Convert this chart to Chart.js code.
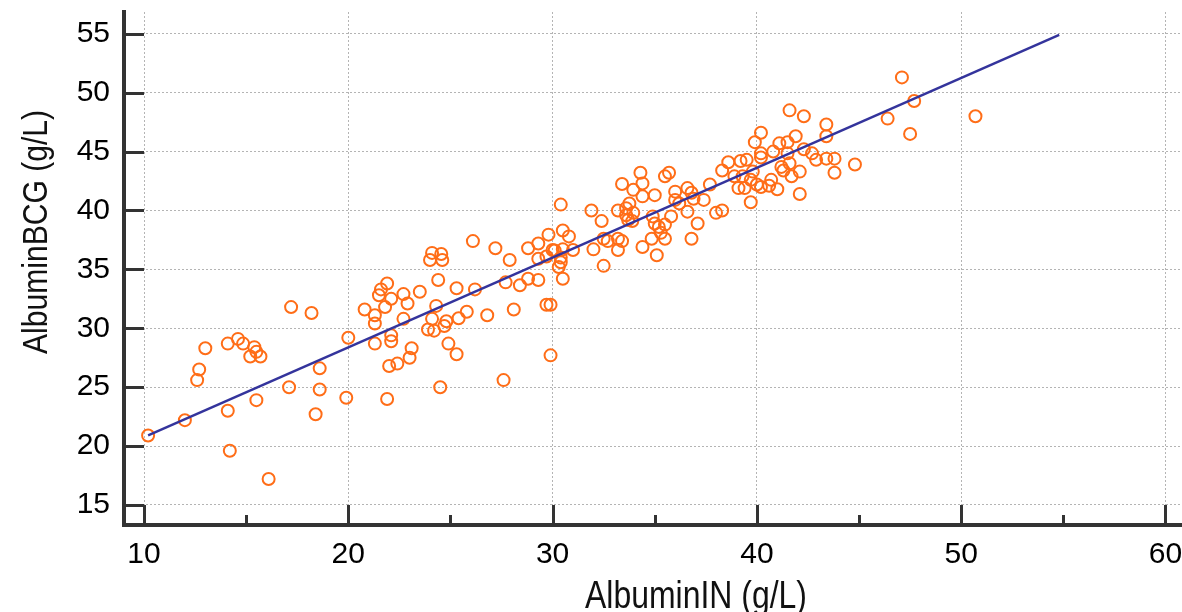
<!DOCTYPE html>
<html>
<head>
<meta charset="utf-8">
<script src="https://cdn.jsdelivr.net/npm/chart.js@4.4.1/dist/chart.umd.min.js"></script>
<style>
    html, body { margin: 0; padding: 0; background: #fff; overflow: hidden; }
    #wrap { width: 1182px; height: 612px; position: relative; }
    #myChart { display: block; }
</style>
</head>
<body>
<div id="wrap"><canvas id="myChart"></canvas></div>
<script>
// albumin measured by the IN method (x) and the BCG method (y), g/L
const albuminIN = [
    10.2, 12.0, 12.6, 12.7, 13.0, 14.1, 14.2, 14.1, 14.6, 14.85, 15.4, 15.5, 15.2, 15.7, 15.5, 16.1,
    17.2, 18.2, 17.1, 18.6, 18.6, 18.4, 20.0, 19.9, 20.8, 21.3, 21.3, 21.3, 21.9, 21.6, 21.9, 21.5,
    22.1, 21.8, 22.1, 22.1, 22.0, 22.4,
    22.7, 22.9, 22.7, 23.5, 23.0, 23.1, 24.1, 24.0, 24.55, 24.6, 24.4, 24.3, 24.1, 23.9, 24.2, 24.8,
    24.7, 24.9, 25.3, 24.5, 25.3, 25.4, 25.8, 26.2, 26.1, 26.8, 27.2, 27.9, 27.7, 28.1, 27.6, 28.4,
    28.8, 29.3, 28.8, 29.3, 29.3, 29.7, 29.8, 29.7, 29.9, 29.9, 30.0, 30.1, 30.5, 30.4, 30.4, 30.3,
    30.5, 30.5, 30.4, 30.8, 31.0,
    31.9, 32.4, 32.0, 32.5, 32.5, 32.7, 33.2, 33.4, 33.2, 33.4, 33.2, 33.95, 33.76, 33.6, 33.6, 33.7,
    33.9, 33.95, 34.4, 34.3, 34.4, 35.0, 35.5, 35.7, 36.0, 36.0, 36.2, 36.6, 36.8, 36.9, 37.4, 37.7,
    36.6, 35.8, 35.5, 35.0, 35.2, 34.85, 34.9, 35.5, 35.3, 34.4, 35.1, 36.8, 37.1,
    38.0, 38.3, 38.3, 38.6, 39.2, 39.5, 38.9, 39.3, 39.8, 39.7, 39.1, 39.4, 40.0, 40.2, 40.6, 40.7,
    41.0, 39.7, 40.2, 40.2, 39.9, 40.2, 40.8, 41.1, 41.5, 41.9, 41.2, 41.3, 41.7, 42.1, 41.6, 41.5,
    42.1, 42.3, 42.7, 42.9, 43.4, 43.8, 43.8, 43.4, 43.4, 42.3, 41.6, 44.8,
    47.1, 47.7, 46.4, 47.5, 50.7
];
const albuminBCG = [
    20.9, 22.2, 25.6, 26.5, 28.3, 23.0, 19.6, 28.7, 29.1, 28.7, 28.4, 28.0, 27.6, 27.6, 23.9, 17.2,
    31.8, 31.3, 25.0, 26.6, 24.8, 22.7, 29.2, 24.1, 31.6, 31.1, 30.4, 28.7, 24.0, 33.3, 33.8, 32.8,
    32.5, 31.8, 29.4, 28.9, 26.8, 27.0,
    32.9, 32.1, 30.8, 33.1, 27.5, 28.3, 36.4, 35.8, 36.3, 35.8, 34.1, 31.9, 30.8, 29.9, 29.8, 30.6,
    30.2, 28.7, 27.8, 25.0, 33.4, 30.85, 31.4, 33.3, 37.4, 31.1, 36.8, 35.8, 33.9, 31.6, 25.6, 33.65,
    34.2, 34.1, 36.8, 37.2, 35.9, 36.1, 37.95, 32.0, 32.0, 27.7, 36.65, 36.6, 36.7, 36.0, 35.6, 35.2,
    34.2, 38.3, 40.5, 37.8, 36.65,
    40.0, 39.1, 36.7, 35.3, 37.6, 37.4, 40.0, 42.25, 37.6, 37.4, 36.65, 41.75, 40.6, 40.2, 39.6, 39.2,
    39.1, 39.8, 42.3, 43.2, 41.2, 41.3, 42.9, 43.2, 41.6, 40.9, 40.6, 41.9, 41.5, 41.0, 40.9, 42.2,
    39.9, 39.5, 38.8, 38.9, 38.6, 37.6, 39.5, 37.6, 38.1, 36.9, 36.2, 37.6, 38.9,
    39.8, 40.0, 43.4, 44.1, 44.2, 44.3, 42.9, 42.9, 43.3, 42.6, 41.9, 41.9, 42.2, 42.0, 42.1, 42.6,
    41.8, 40.7, 44.85, 44.5, 45.8, 46.6, 45.0, 45.7, 45.8, 46.3, 43.7, 43.4, 42.9, 43.3, 44.0, 44.85,
    41.4, 45.2, 44.85, 44.3, 44.4, 44.4, 43.2, 46.3, 47.3, 48.0, 48.5, 43.9,
    51.3, 49.3, 47.8, 46.5, 48.0
];

// ends of the regression line
const fitX = [10.2, 54.8];
const fitY = [20.9, 54.9];

const xTicks = [10, 20, 30, 40, 50, 60];
const xMinorTicks = [15, 25, 35, 45, 55];
const yTicks = [15, 20, 25, 30, 35, 40, 45, 50, 55];

const xTitle = 'AlbuminIN (g/L)';
const yTitle = 'AlbuminBCG (g/L)';

const points = albuminIN.map((v, i) => ({ x: v, y: albuminBCG[i] }));
const fitLine = fitX.map((v, i) => ({ x: v, y: fitY[i] }));

// the titles use a narrow face; squeeze the text to the width it has in the original
function narrowText(c, text, x, y, width) {
    const w = c.measureText(text).width;
    c.save();
    c.translate(x, y);
    c.scale(width / w, 1);
    c.fillText(text, 0, 0);
    c.restore();
}

// tick marks point into the plot and the axis titles sit off-center, so draw those by hand
const axisMarks = {
    id: 'axisMarks',
    afterDraw(chart) {
        const ctx = chart.ctx;
        const area = chart.chartArea;
        const xs = chart.scales.x;
        const ys = chart.scales.y;
        ctx.save();
        ctx.strokeStyle = '#333333';
        ctx.lineWidth = 3;
        ctx.beginPath();
        yTicks.forEach(v => {
            const py = Math.round(ys.getPixelForValue(v)) + 0.5;
            ctx.moveTo(area.left, py);
            ctx.lineTo(area.left + 20, py);
        });
        xTicks.forEach(v => {
            const px = Math.round(xs.getPixelForValue(v)) + 0.5;
            ctx.moveTo(px, area.bottom);
            ctx.lineTo(px, area.bottom - 20);
        });
        xMinorTicks.forEach(v => {
            const px = Math.round(xs.getPixelForValue(v)) + 0.5;
            ctx.moveTo(px, area.bottom);
            ctx.lineTo(px, area.bottom - 10);
        });
        ctx.stroke();

        ctx.fillStyle = '#111111';
        ctx.textAlign = 'center';
        ctx.textBaseline = 'alphabetic';
        ctx.font = '38px "Liberation Sans", Arial, sans-serif';
        narrowText(ctx, xTitle, 696, 608, 222);

        ctx.translate(47, 232);
        ctx.rotate(-Math.PI / 2);
        ctx.font = '35px "Liberation Sans", Arial, sans-serif';
        narrowText(ctx, yTitle, 0, 0, 244);
        ctx.restore();
    }
};

const ctx = document.getElementById('myChart').getContext('2d');
const myChart = new Chart(ctx, {
    type: 'scatter',
    data: {
        datasets: [
            {
                type: 'line',
                label: 'Regression',
                data: fitLine,
                borderColor: '#34349c',
                borderWidth: 2.5,
                pointRadius: 0,
                fill: false,
                order: 0
            },
            {
                label: 'Albumin',
                data: points,
                pointStyle: 'circle',
                pointRadius: 6,
                pointBorderWidth: 2,
                borderColor: '#ff6d17',
                backgroundColor: 'rgba(0,0,0,0)',
                order: 1
            }
        ]
    },
    options: {
        responsive: true,
        maintainAspectRatio: false,
        animation: false,
        devicePixelRatio: 1,
        layout: { autoPadding: false, padding: { top: 12, right: 0, left: 0, bottom: 0 } },
        plugins: {
            legend: { display: false },
            tooltip: { enabled: false }
        },
        scales: {
            x: {
                type: 'linear',
                min: 9.02,
                max: 60.81,
                afterBuildTicks: (scale) => { scale.ticks = xTicks.map(v => ({ value: v })); },
                afterFit: (scale) => {
                    scale.height = 87;
                    scale.paddingLeft = 0;
                    scale.paddingRight = 0;
                },
                // invisible tick marks just push the labels down; the real marks are drawn by axisMarks
                grid: { color: '#b4b4b4', lineWidth: 1, drawTicks: true, tickLength: 12, tickColor: 'rgba(0,0,0,0)' },
                border: { display: true, color: '#333333', width: 4, dash: [2, 2] },
                ticks: {
                    color: '#000',
                    padding: 0,
                    maxRotation: 0,
                    font: { family: '"Liberation Sans", Arial, sans-serif', size: 30 }
                }
            },
            y: {
                type: 'linear',
                min: 13.3,
                max: 56.85,
                afterBuildTicks: (scale) => { scale.ticks = yTicks.map(v => ({ value: v })); },
                afterFit: (scale) => {
                    scale.width = 124;
                    scale.paddingTop = 0;
                    scale.paddingBottom = 0;
                },
                grid: { color: '#b4b4b4', lineWidth: 1, drawTicks: false },
                border: { display: true, color: '#333333', width: 4, dash: [2, 2] },
                ticks: {
                    color: '#000',
                    padding: 14,
                    font: { family: '"Liberation Sans", Arial, sans-serif', size: 30 }
                }
            }
        }
    },
    plugins: [axisMarks]
});
</script>
</body>
</html>
